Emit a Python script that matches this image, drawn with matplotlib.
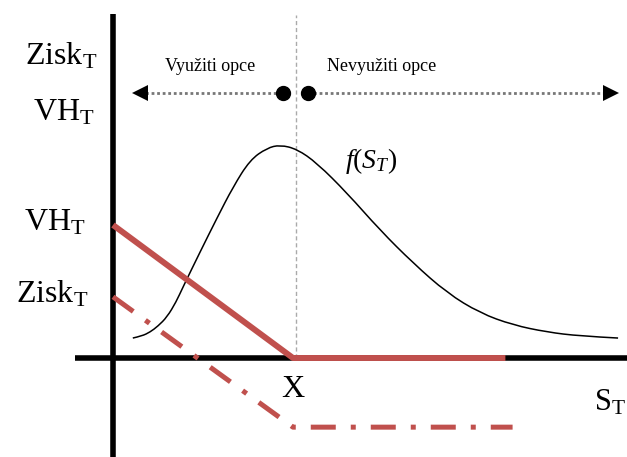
import matplotlib
matplotlib.use('Agg')
from matplotlib import pyplot as plt
from matplotlib.path import Path
from matplotlib.patches import PathPatch

plt.rcParams['font.family'] = ['Liberation Serif', 'DejaVu Serif']
plt.rcParams['mathtext.fontset'] = 'custom'
plt.rcParams['mathtext.rm'] = 'Liberation Serif'
plt.rcParams['mathtext.it'] = 'Liberation Serif:italic'

RED = '#c0504d'

# strike price and put option value / profit at expiry
strike = 100
s_value = [0, 100, 218]
vh_value = [100, 0, 0]
s_profit = [0, 100, 222]
zisk_value = [46, -52, -52]

# probability density of the underlying price at expiry (scaled)
s_density = [11, 16, 20.6, 25, 30, 35, 38.9, 48.3, 57.8, 66.7, 76.1, 85.6, 92.8,
             102.2, 113.3, 130, 148.3, 166.7, 185.6, 203.9, 222.2, 241.1, 259.4, 280.6]
density = [15, 16.5, 19.5, 24, 30.8, 42, 53.4, 79.5, 105.3, 128.6, 148.9, 157.9, 160.2,
           157.1, 146.6, 124.1, 96.2, 71.4, 48.9, 33.8, 24.8, 19.5, 16.5, 15]

# exercise / no exercise region arrows
arrow_level = 199
arrow_left = 11
arrow_right = 281
dot_left = 94.4
dot_right = 108.3


def smooth_path(xs, ys):
    # quadratic bezier pieces through the midpoints, control points at the data points
    pts = list(zip(xs, ys))
    verts = [pts[0]]
    codes = [Path.MOVETO]
    for i in range(1, len(pts) - 1):
        mid = ((pts[i][0] + pts[i + 1][0]) / 2, (pts[i][1] + pts[i + 1][1]) / 2)
        if i == len(pts) - 2:
            mid = pts[-1]
        verts += [pts[i], mid]
        codes += [Path.CURVE3, Path.CURVE3]
    return Path(verts, codes)


fig = plt.figure(figsize=(6.27, 4.57), dpi=100)
ax = fig.add_axes([0, 0, 1, 1])
ax.set_xlim(-62.78, 285.56)
ax.set_ylim(-74.44, 269.17)
ax.axis('off')

# coordinate axes
ax.plot([-21, 286], [0, 0], color='black', lw=4, solid_capstyle='butt', zorder=2)
ax.plot([0, 0], [-75, 259], color='black', lw=4, solid_capstyle='butt', zorder=2)

# strike line
ax.plot([strike + 1.5, strike + 1.5], [0, 258], color='#aaaaaa', lw=1, ls=(0, (3, 2)), zorder=1)

# density curve
ax.add_patch(PathPatch(smooth_path(s_density, density), fill=False, edgecolor='black',
                       lw=1.1, zorder=3))

# option value and profit
ax.plot(s_value, vh_value, color=RED, lw=4.3, solid_capstyle='butt', zorder=4)
ax.plot(s_profit, zisk_value, color=RED, lw=3.6, ls=(0, (5, 3, 1, 3)),
        dash_capstyle='butt', zorder=4)

# region arrows
ax.plot([arrow_left + 4, dot_left], [arrow_level, arrow_level], color='#777777', lw=2,
        ls=(0, (1, 1)), zorder=3)
ax.plot([dot_right, arrow_right - 4], [arrow_level, arrow_level], color='#777777', lw=2,
        ls=(0, (1, 1)), zorder=3)
ax.plot([arrow_left + 4.2], [arrow_level], marker='<', ms=11, color='black', mew=0, zorder=4)
ax.plot([arrow_right - 4.2], [arrow_level], marker='>', ms=11, color='black', mew=0, zorder=4)
ax.plot([dot_left, dot_right], [arrow_level, arrow_level], 'o', ms=10, color='black', zorder=4)

ax.text(53.9, 219.5, 'Využiti opce', fontsize=13, ha='center', va='center')
ax.text(149.4, 219.5, 'Nevyužiti opce', fontsize=13, ha='center', va='center')

# axis labels
big = 23
ax.text(-8.9, 220.3, r'Zisk$_{\mathrm{T}}$', fontsize=big, ha='right', va='baseline')
ax.text(-10, 178.2, r'VH$_{\mathrm{T}}$', fontsize=big, ha='right', va='baseline')
ax.text(-15, 96.2, r'VH$_{\mathrm{T}}$', fontsize=big, ha='right', va='baseline')
ax.text(-13.9, 42.1, r'Zisk$_{\mathrm{T}}$', fontsize=big, ha='right', va='baseline')
ax.text(strike, -29.3, 'X', fontsize=big, ha='center', va='baseline')
ax.text(285.2, -39.8, r'S$_{\mathrm{T}}$', fontsize=22, ha='right', va='baseline')
ax.text(128.9, 148, r'$f(S_T)$', fontsize=20, ha='left', va='center')

fig.savefig('out.png', dpi=100)
